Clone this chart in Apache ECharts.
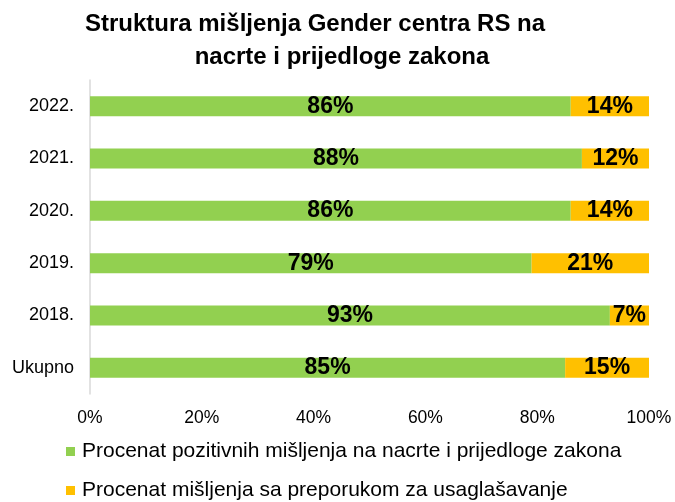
<!DOCTYPE html>
<html>
<head>
<meta charset="utf-8">
<script src="https://cdn.jsdelivr.net/npm/echarts@6/dist/echarts.min.js"></script>
<style>
  html, body { margin: 0; padding: 0; background: #fff; }
  #chart { width: 675px; height: 502px; }
</style>
</head>
<body>
<div id="chart"></div>
<script>
// kategorije odozgo prema dolje
const categories = ['2022.', '2021.', '2020.', '2019.', '2018.', 'Ukupno']
const positive = [86, 88, 86, 79, 93, 85]
const withRecommendation = [14, 12, 14, 21, 7, 15]
const xTicks = [0, 20, 40, 60, 80, 100]

const titleLines = ['Struktura mišljenja Gender centra RS na', 'nacrte i prijedloge zakona']
const seriesNames = [
  'Procenat pozitivnih mišljenja na nacrte i prijedloge zakona',
  'Procenat mišljenja sa preporukom za usaglašavanje'
]

const chart = echarts.init(document.getElementById('chart'))

const labelStyle = {
  show: true,
  position: 'inside',
  formatter: '{c}%',
  color: '#000',
  fontWeight: 'bold',
  fontSize: 23,
  fontFamily: 'Liberation Sans, Arial, sans-serif'
}

const titleStyle = { fontSize: 24, fontWeight: 'bold', color: '#000' }

// legenda - svaka stavka u svom redu
const legendBase = {
  left: 66,
  padding: 0,
  itemGap: 0,
  itemWidth: 9,
  itemHeight: 9,
  icon: 'rect',
  textStyle: { fontSize: 21, color: '#000', padding: [0, 0, 0, 2] }
}

chart.setOption({
  animation: false,
  textStyle: { fontFamily: 'Liberation Sans, Arial, sans-serif' },
  title: [
    { text: titleLines[0], left: 315, textAlign: 'center', top: 12, padding: 0, textStyle: titleStyle },
    { text: titleLines[1], left: 342, textAlign: 'center', top: 45, padding: 0, textStyle: titleStyle }
  ],
  legend: [
    Object.assign({}, legendBase, { top: 441, data: [seriesNames[0]] }),
    Object.assign({}, legendBase, { top: 480, data: [seriesNames[1]] })
  ],
  grid: {
    left: 90,
    right: 26,
    top: 80,
    bottom: 108
  },
  xAxis: {
    type: 'value',
    min: 0,
    max: 100,
    interval: 20,
    axisLine: { show: false },
    axisTick: { show: false },
    splitLine: { show: false },
    axisLabel: {
      color: '#000',
      fontSize: 17.5,
      margin: 15,
      formatter: v => (xTicks.includes(v) ? v + '%' : '')
    }
  },
  yAxis: {
    type: 'category',
    inverse: true,
    data: categories,
    axisLine: { show: true, lineStyle: { color: '#d9d9d9', width: 1.5 } },
    axisTick: { show: false },
    axisLabel: { color: '#000', fontSize: 18, margin: 16 }
  },
  series: [
    {
      name: seriesNames[0],
      type: 'bar',
      stack: 'total',
      barWidth: 20,
      data: positive,
      itemStyle: { color: '#92D050' },
      label: labelStyle
    },
    {
      name: seriesNames[1],
      type: 'bar',
      stack: 'total',
      barWidth: 20,
      data: withRecommendation,
      itemStyle: { color: '#FFC000' },
      label: labelStyle
    }
  ]
})
</script>
</body>
</html>
